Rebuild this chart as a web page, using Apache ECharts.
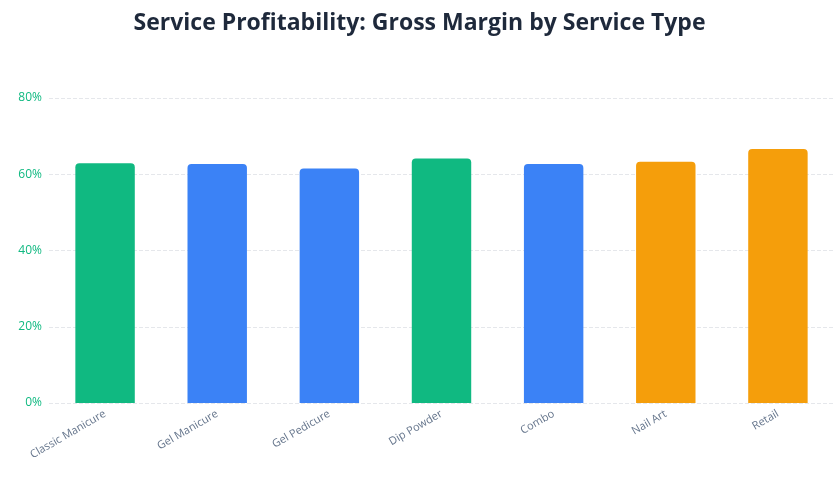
<!DOCTYPE html>
<html>
<head>
<meta charset="utf-8">
<script src="https://cdn.jsdelivr.net/npm/echarts@6/dist/echarts.min.js"></script>
<style>
  html, body { margin: 0; padding: 0; background: #fff; }
  #chart { width: 839px; height: 481px; }
</style>
</head>
<body>
<div id="chart"></div>
<script>
  // service types and their gross margin (%)
  var categories = ['Classic Manicure', 'Gel Manicure', 'Gel Pedicure', 'Dip Powder', 'Combo', 'Nail Art', 'Retail'];
  var margins = [62.9, 62.7, 61.5, 64.1, 62.7, 63.3, 66.6];
  var barColors = ['#10b981', '#3b82f6', '#3b82f6', '#10b981', '#3b82f6', '#f59e0b', '#f59e0b'];
  var yTicks = [0, 20, 40, 60, 80];

  var chart = echarts.init(document.getElementById('chart'));
  var option = {
    title: {
      text: 'Service Profitability: Gross Margin by Service Type',
      left: 'center',
      top: 7,
      textStyle: {
        fontFamily: 'Open Sans',
        fontSize: 23,
        fontWeight: 'bold',
        color: '#1e293b'
      }
    },
    grid: {
      left: 49,
      right: 5,
      top: 98,
      bottom: 78
    },
    xAxis: {
      type: 'category',
      data: categories,
      axisLine: { show: false },
      axisTick: { show: false },
      axisLabel: {
        rotate: 30,
        interval: 0,
        color: '#64748b',
        fontFamily: 'Open Sans',
        fontSize: 11,
        margin: 10
      }
    },
    yAxis: {
      type: 'value',
      min: yTicks[0],
      max: yTicks[yTicks.length - 1],
      interval: 20,
      axisLine: { show: false },
      axisTick: { show: false },
      axisLabel: {
        formatter: '{value}%',
        color: '#10b981',
        fontFamily: 'Open Sans',
        fontSize: 12,
        margin: 7
      },
      splitLine: {
        lineStyle: { color: '#e5e7eb', type: 'dashed' }
      }
    },
    series: [{
      type: 'bar',
      barWidth: '53%',
      data: margins.map(function (v, i) {
        return { value: v, itemStyle: { color: barColors[i] } };
      }),
      itemStyle: { borderRadius: [4, 4, 0, 0] }
    }]
  };
  chart.setOption(option);
  window.addEventListener('resize', function () {
    chart.resize();
  });
</script>
</body>
</html>
